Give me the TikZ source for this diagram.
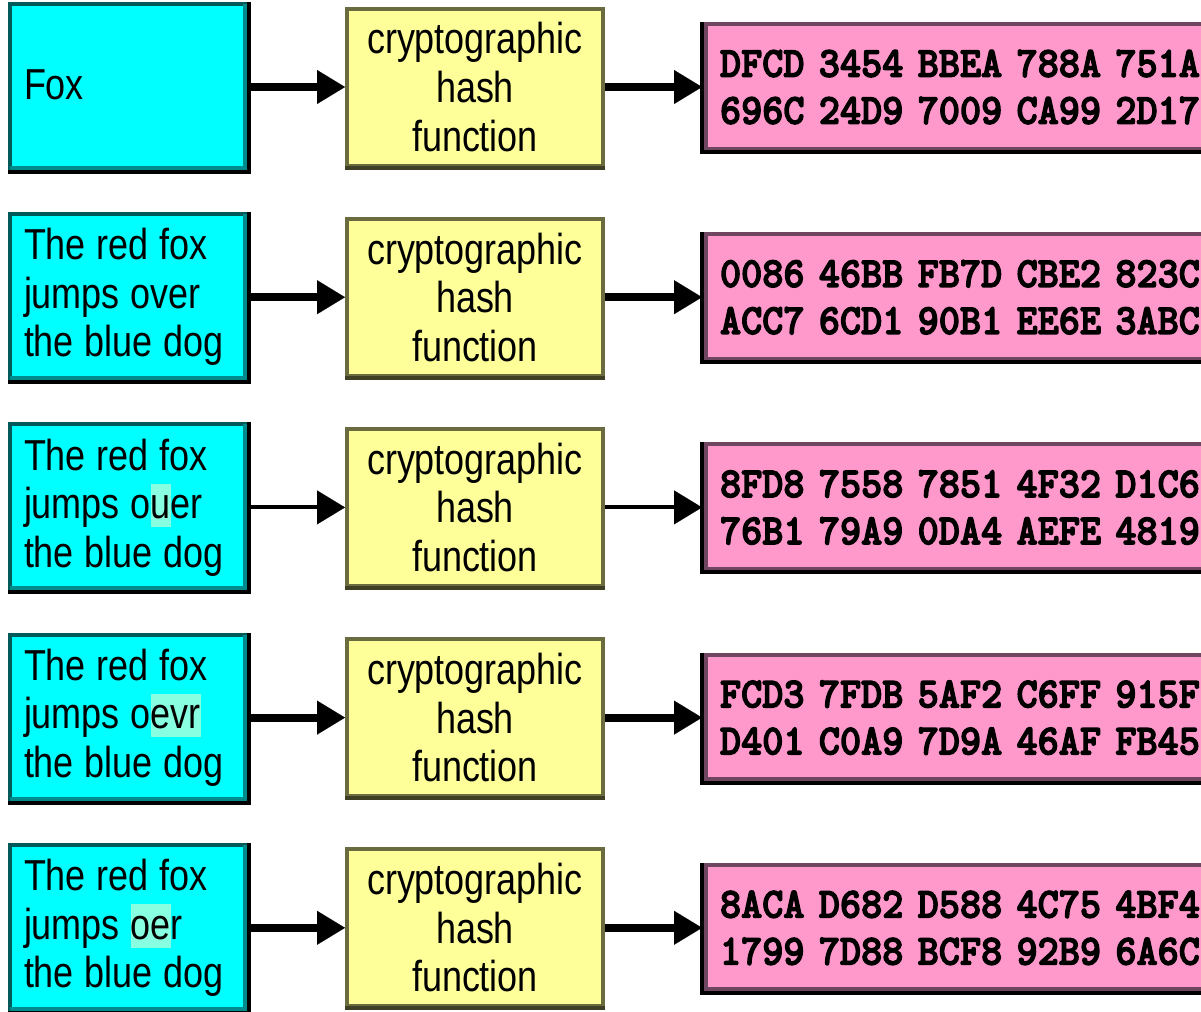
\documentclass[tikz,border=0pt]{standalone}
\usepackage{fontspec}
\usepackage{xcolor}
\usetikzlibrary{arrows.meta}
\setmainfont{Liberation Sans}[FakeStretch=0.83]
\newfontfamily\hexfont{lmmonolt10-bold.otf}[FakeStretch=0.936,FakeBold=3]

\definecolor{incol}{HTML}{00FFFF}
\definecolor{inedgecol}{HTML}{005A5A}
\definecolor{inbandcol}{HTML}{008C8C}
\definecolor{fncol}{HTML}{FFFF99}
\definecolor{fnedgecol}{HTML}{6B6B40}
\definecolor{fnbotcol}{HTML}{3F3F25}
\definecolor{outcol}{HTML}{FF99CC}
\definecolor{outedgecol}{HTML}{6E4660}
\definecolor{hlcol}{HTML}{88FFE0}

% marks the changed letters of a message
\newcommand\hilite[1]{\setbox0=\hbox{#1}\rlap{\textcolor{hlcol}{\rule[-0.2em]{\wd0}{1.0em}}}\box0}

\tikzset{
  inbox/.style={rectangle, fill=incol, draw=inedgecol, line width=3pt,
    minimum height=124.5pt, text width=156.75pt, inner xsep=10.5pt, inner ysep=0pt,
    align=left, font=\fontsize{32.5pt}{36.4pt}\selectfont,
    execute at begin node={\spaceskip=8pt\relax}},
  hashbox/.style={rectangle, fill=fncol, draw=fnedgecol, line width=3pt,
    minimum width=192pt, minimum height=117.75pt, inner sep=0pt,
    align=center, font=\fontsize{32.5pt}{36.4pt}\selectfont},
  outbox/.style={rectangle, fill=outcol, draw=outedgecol, line width=3pt,
    minimum height=94.5pt, text width=371.25pt, inner xsep=12pt, inner ysep=0pt,
    align=left, font=\hexfont\fontsize{32.25pt}{35.25pt}\selectfont},
  darkedge/.style={black, line width=3pt},
  inband/.style={inbandcol, line width=3pt},
  fnbottom/.style={fnbotcol, line width=3pt},
  outband/.style={outedgecol, line width=2.25pt},
  link/.style={-{Triangle[length=21pt, width=25.5pt, line width=0.1pt]}, black},
}

% one message -> hash function -> digest row
\newcommand\hashrow[5]{%
  \pgfmathsetmacro\rowy{87+210.2*#1}%
  \node[inbox] (in#1) at (128.5,\rowy) {#2};
  \node[hashbox] (fn#1) at (475,\rowy) {cryptographic\\hash\\function};
  \node[outbox] (out#1) at (967.5,\rowy) {#3\\#4};
  % shaded right and bottom edges
  \draw[darkedge] (in#1.north east) -- (in#1.south east) -- (in#1.south west);
  \draw[inband] ([xshift=-3pt,yshift=-1.5pt]in#1.north east) -- ([xshift=-3pt,yshift=3pt]in#1.south east) -- ([xshift=1.5pt,yshift=3pt]in#1.south west);
  \draw[fnbottom] (fn#1.south west) -- (fn#1.south east);
  \draw[darkedge] (out#1.north west) -- (out#1.south west) -- (out#1.south east);
  \draw[outband] ([xshift=3pt,yshift=-1.5pt]out#1.north west) -- ([xshift=3pt,yshift=3pt]out#1.south west) -- ([yshift=3pt]out#1.south east);
  % connectors
  \draw[link, line width=#5] (in#1) -- (fn#1);
  \draw[link, line width=#5] (fn#1) -- (out#1);
}

\begin{document}
\begin{tikzpicture}[x=0.75pt, y=-0.75pt]
  \clip (0,0) rectangle (1201,1011);
  \fill[white] (0,0) rectangle (1201,1011);

  \hashrow{0}{\raisebox{3.75pt}{Fox}}
    {DFCD 3454 BBEA 788A 751A}{696C 24D9 7009 CA99 2D17}{6pt}
  \hashrow{1}{The red fox\\jumps over\\the blue dog}
    {0086 46BB FB7D CBE2 823C}{ACC7 6CD1 90B1 EE6E 3ABC}{6pt}
  \hashrow{2}{The red fox\\jumps o\hilite{u}er\\the blue dog}
    {8FD8 7558 7851 4F32 D1C6}{76B1 79A9 0DA4 AEFE 4819}{3pt}
  \hashrow{3}{The red fox\\jumps o\hilite{evr}\\the blue dog}
    {FCD3 7FDB 5AF2 C6FF 915F}{D401 C0A9 7D9A 46AF FB45}{6pt}
  \hashrow{4}{The red fox\\jumps \hilite{oe}r\\the blue dog}
    {8ACA D682 D588 4C75 4BF4}{1799 7D88 BCF8 92B9 6A6C}{6pt}
\end{tikzpicture}
\end{document}
